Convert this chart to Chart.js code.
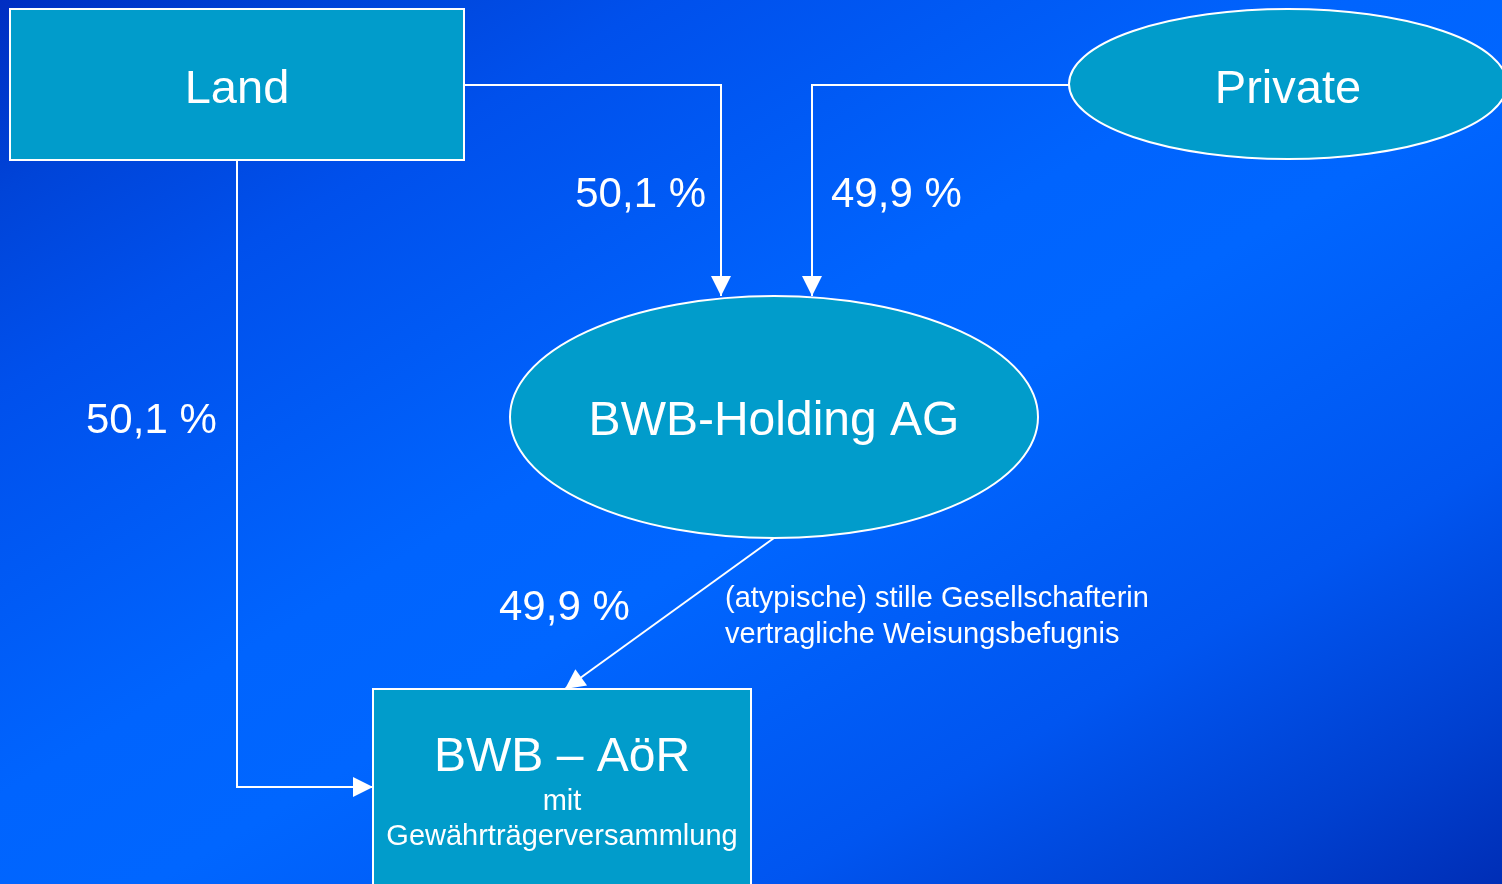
<!DOCTYPE html>
<html>
<head>
<meta charset="utf-8">
<title>BWB</title>
<script src="https://cdn.jsdelivr.net/npm/chart.js@4"></script>
<style>
  html, body { margin: 0; padding: 0; background: #0050e0; overflow: hidden; }
  canvas { display: block; }
</style>
</head>
<body>
<canvas id="organigramm" width="1502" height="884"></canvas>
<script>
// Inhalte des Diagramms
const knoten = ['Land', 'Private', 'BWB-Holding AG', 'BWB – AöR'];
const knotenZusatz = ['mit', 'Gewährträgerversammlung'];
// Anteile: Land->Holding, Private->Holding, Land->AöR, Holding->AöR
const anteile = [50.1, 49.9, 50.1, 49.9];
const hinweis = ['(atypische) stille Gesellschafterin', 'vertragliche Weisungsbefugnis'];

// Lage der Kästen/Ellipsen in Diagramm-Einheiten (x 0..1502, y 0..884)
const layout = {
    land:    { form: 'rect', x1: 10, y1: 9, x2: 464, y2: 160 },
    privat:  { form: 'ellipse', cx: 1288, cy: 84, rx: 219, ry: 75 },
    holding: { form: 'ellipse', cx: 774, cy: 417, rx: 264, ry: 121 },
    aoer:    { form: 'rect', x1: 373, y1: 689, x2: 751, y2: 900 }
};

const fuellung = '#019ccb';
const schrift = '"Liberation Sans", Arial, sans-serif';

function prozent(v) {
    return v.toFixed(1).replace('.', ',') + ' %';
}

const diagrammPlugin = {
    id: 'diagramm',
    beforeDraw(chart) {
        const ctx = chart.ctx;
        const w = chart.width, h = chart.height;
        // Verlauf quer zur Gegendiagonale
        const t = 2 * w * h / (w * w + h * h);
        const grad = ctx.createLinearGradient(0, 0, t * h, t * w);
        grad.addColorStop(0, '#002ec2');
        grad.addColorStop(0.11, '#0044d8');
        grad.addColorStop(0.22, '#0050ec');
        grad.addColorStop(0.45, '#0064fe');
        grad.addColorStop(0.55, '#0066ff');
        grad.addColorStop(0.76, '#0055f0');
        grad.addColorStop(0.9, '#0040d0');
        grad.addColorStop(1, '#002eb6');
        ctx.save();
        ctx.fillStyle = grad;
        ctx.fillRect(0, 0, w, h);
        ctx.restore();
    },
    afterDatasetsDraw(chart) {
        const ctx = chart.ctx;
        const sx = chart.scales.x, sy = chart.scales.y;
        const X = v => sx.getPixelForValue(v);
        const Y = v => sy.getPixelForValue(v);

        ctx.save();
        ctx.strokeStyle = '#ffffff';
        ctx.fillStyle = '#ffffff';
        ctx.lineWidth = 2;

        function linie(punkte) {
            ctx.beginPath();
            ctx.moveTo(X(punkte[0][0]), Y(punkte[0][1]));
            for (let i = 1; i < punkte.length; i++) {
                ctx.lineTo(X(punkte[i][0]), Y(punkte[i][1]));
            }
            ctx.stroke();
            // Pfeilspitze am Ende
            const [ax, ay] = punkte[punkte.length - 2];
            const [bx, by] = punkte[punkte.length - 1];
            const px = X(bx), py = Y(by);
            const ang = Math.atan2(Y(by) - Y(ay), X(bx) - X(ax));
            const len = 20, breite = 10;
            ctx.beginPath();
            ctx.moveTo(px, py);
            ctx.lineTo(px - len * Math.cos(ang) + breite * Math.sin(ang), py - len * Math.sin(ang) - breite * Math.cos(ang));
            ctx.lineTo(px - len * Math.cos(ang) - breite * Math.sin(ang), py - len * Math.sin(ang) + breite * Math.cos(ang));
            ctx.closePath();
            ctx.fill();
        }

        // Verbindungen
        linie([[464, 85], [721, 85], [721, 296]]);
        linie([[1069, 85], [812, 85], [812, 296]]);
        linie([[237, 160], [237, 787], [373, 787]]);
        linie([[774, 538], [565, 689]]);

        // Knoten
        function form(k) {
            ctx.beginPath();
            if (k.form === 'rect') {
                ctx.rect(X(k.x1), Y(k.y1), X(k.x2) - X(k.x1), Y(k.y2) - Y(k.y1));
            } else {
                ctx.ellipse(X(k.cx), Y(k.cy), X(k.cx + k.rx) - X(k.cx), Y(k.cy + k.ry) - Y(k.cy), 0, 0, Math.PI * 2);
            }
            ctx.fillStyle = fuellung;
            ctx.fill();
            ctx.strokeStyle = '#ffffff';
            ctx.lineWidth = 2;
            ctx.stroke();
        }
        form(layout.land);
        form(layout.privat);
        form(layout.holding);
        form(layout.aoer);

        // Texte
        ctx.fillStyle = '#ffffff';
        ctx.textBaseline = 'alphabetic';
        function text(t, x, y, groesse, ausr) {
            ctx.font = groesse + 'px ' + schrift;
            ctx.textAlign = ausr || 'center';
            ctx.fillText(t, X(x), Y(y));
        }
        text(knoten[0], 237, 103, 47);
        text(knoten[1], 1288, 103, 47);
        text(knoten[2], 774, 435, 48);
        text(knoten[3], 562, 771, 48);
        text(knotenZusatz[0], 562, 810, 29);
        text(knotenZusatz[1], 562, 845, 29);

        text(prozent(anteile[0]), 706, 207, 42, 'right');
        text(prozent(anteile[1]), 831, 207, 42, 'left');
        text(prozent(anteile[2]), 86, 433, 42, 'left');
        text(prozent(anteile[3]), 499, 620, 42, 'left');

        text(hinweis[0], 725, 607, 29, 'left');
        text(hinweis[1], 725, 643, 29, 'left');
        ctx.restore();
    }
};

const chart = new Chart(document.getElementById('organigramm').getContext('2d'), {
    type: 'scatter',
    data: {
        datasets: [{ label: 'Beteiligungen', data: [], pointRadius: 0 }]
    },
    options: {
        responsive: false,
        animation: false,
        layout: { padding: 0 },
        plugins: { legend: { display: false }, tooltip: { enabled: false } },
        scales: {
            x: { type: 'linear', display: false, min: 0, max: 1502 },
            y: { type: 'linear', display: false, min: 0, max: 884, reverse: true }
        }
    },
    plugins: [diagrammPlugin]
});
</script>
</body>
</html>
